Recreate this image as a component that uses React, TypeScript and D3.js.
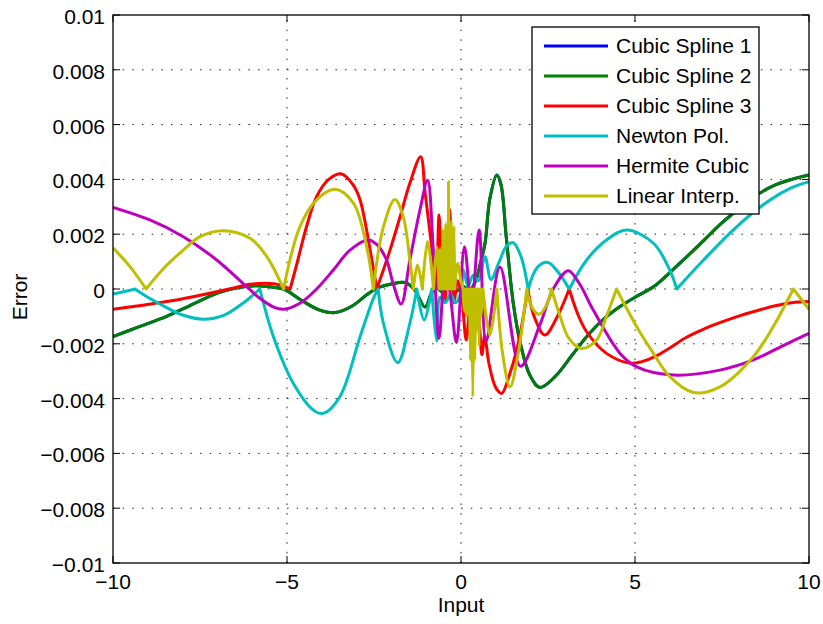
import React from "react";
import * as d3 from "d3";

// ---- data (x, error, optional kink flag = 1 where the curve has a corner) ----
type Pt = [number, number, number?];

const xTicks = [-10, -5, 0, 5, 10];
const xTickLabels = ["\u221210", "\u22125", "0", "5", "10"];
const yTicks = [0.01, 0.008, 0.006, 0.004, 0.002, 0, -0.002, -0.004, -0.006, -0.008, -0.01];
const yTickLabels = ["0.01", "0.008", "0.006", "0.004", "0.002", "0", "\u22120.002", "\u22120.004", "\u22120.006", "\u22120.008", "\u22120.01"];

const seriesNames = ["Cubic Spline 1", "Cubic Spline 2", "Cubic Spline 3", "Newton Pol.", "Hermite Cubic", "Linear Interp."];

const spline2Err: Pt[] = [
  [-10, -1.74e-3], [-9.3, -1.4e-3], [-8.46, -1.0e-3], [-7.7, -0.55e-3], [-7.02, -0.16e-3], [-6.5, 0.03e-3],
  [-5.9, 0.12e-3], [-5.5, 0.08e-3], [-5.1, 0.0], [-4.6, -0.4e-3], [-4.1, -0.75e-3], [-3.62, -0.86e-3],
  [-3.1, -0.6e-3], [-2.7, -0.2e-3], [-2.42, 0.02e-3], [-2.0, 0.18e-3], [-1.61, 0.24e-3], [-1.35, 0.0],
  [-1.03, -0.66e-3], [-0.85, -0.15e-3], [-0.7, 0.05e-3], [-0.55, -0.1e-3], [-0.35, 0.1e-3], [-0.15, -0.1e-3],
  [0.05, 0.1e-3], [0.25, -0.05e-3], [0.42, 0.3e-3], [0.55, 0.9e-3], [0.69, 1.67e-3], [0.83, 3.3e-3],
  [1.03, 4.16e-3], [1.15, 3.8e-3], [1.3, 1.9e-3], [1.5, -0.5e-3], [1.7, -1.95e-3], [1.98, -3.15e-3],
  [2.27, -3.59e-3], [2.7, -3.2e-3], [3.2, -2.4e-3], [3.61, -1.74e-3], [4.1, -1.1e-3], [4.57, -0.64e-3],
  [5.0, -0.3e-3], [5.53, 0.08e-3], [6.0, 0.6e-3], [6.49, 1.18e-3], [7.0, 1.8e-3], [7.44, 2.35e-3],
  [8.0, 2.95e-3], [8.4, 3.35e-3], [9.0, 3.78e-3], [9.5, 4.0e-3], [10, 4.16e-3],
];

// Cubic Spline 1 is fully hidden under Cubic Spline 2 in the reference
const spline1Err: Pt[] = spline2Err;

const spline3Err: Pt[] = [
  [-10, -0.74e-3], [-9.2, -0.6e-3], [-8.46, -0.46e-3], [-7.7, -0.28e-3], [-7.02, -0.1e-3], [-6.5, 0.05e-3],
  [-6.06, 0.17e-3], [-5.6, 0.21e-3], [-5.2, 0.15e-3], [-4.91, 0.0, 1], [-4.7, 1.0e-3], [-4.44, 2.27e-3],
  [-4.15, 3.37e-3], [-3.8, 4.0e-3], [-3.43, 4.2e-3], [-3.1, 3.8e-3], [-2.9, 3.25e-3], [-2.61, 1.42e-3],
  [-2.42, 0.0, 1], [-2.04, 1.42e-3], [-1.75, 2.64e-3], [-1.47, 3.86e-3], [-1.16, 4.83e-3], [-1.03, 3.5e-3],
  [-0.8, 1.06e-3], [-0.72, 0.0], [-0.63, 2.7e-3], [-0.55, 0.2e-3], [-0.47, -0.5e-3], [-0.4, 0.8e-3],
  [-0.33, 2.9e-3], [-0.26, 1.2e-3], [-0.2, -0.5e-3], [-0.1, 0.3e-3], [0.02, -0.3e-3], [0.15, -1.86e-3],
  [0.27, -0.6e-3], [0.38, -1.6e-3], [0.5, -1.2e-3], [0.6, -2.4e-3], [0.68, -1.7e-3], [0.8, -2.7e-3],
  [1.0, -3.6e-3], [1.17, -3.81e-3], [1.4, -3.1e-3], [1.6, -2.23e-3], [1.75, -1.3e-3], [1.92, 0.0, 1],
  [2.1, -1.0e-3], [2.41, -1.68e-3], [2.75, -1.05e-3], [3.11, 0.0, 1], [3.35, -0.9e-3], [3.61, -1.56e-3],
  [4.18, -2.35e-3], [4.86, -2.71e-3], [5.2, -2.65e-3], [5.6, -2.45e-3], [6.0, -2.15e-3], [6.48, -1.76e-3],
  [7.0, -1.45e-3], [7.44, -1.23e-3], [8.0, -0.98e-3], [8.4, -0.83e-3], [9.0, -0.62e-3], [9.5, -0.5e-3],
  [10, -0.46e-3],
];

const newtonErr: Pt[] = [
  [-10, -0.18e-3], [-9.7, -0.1e-3], [-9.37, 0.0, 1], [-9.0, -0.3e-3], [-8.5, -0.65e-3], [-8.0, -0.95e-3],
  [-7.4, -1.1e-3], [-6.8, -0.95e-3], [-6.3, -0.55e-3], [-5.78, 0.0, 1], [-5.39, -1.74e-3], [-4.82, -3.44e-3],
  [-4.24, -4.42e-3], [-3.96, -4.54e-3], [-3.48, -3.93e-3], [-2.9, -1.74e-3], [-2.52, -0.35e-3], [-2.38, 0.0, 1],
  [-2.23, -1.25e-3], [-1.82, -2.69e-3], [-1.47, -1.25e-3], [-1.27, 0.0, 1], [-1.06, -1.13e-3], [-0.84, 0.0, 1],
  [-0.7, -1.9e-3], [-0.6, -0.3e-3], [-0.45, -0.5e-3], [-0.3, -0.2e-3], [-0.15, -0.5e-3], [0.0, -0.1e-3],
  [0.07, 0.69e-3], [0.2, 0.1e-3], [0.35, 0.5e-3], [0.5, 0.3e-3], [0.69, 1.18e-3], [0.86, 0.35e-3],
  [1.1, 1.0e-3], [1.3, 1.55e-3], [1.5, 1.69e-3], [1.72, 1.2e-3], [1.93, 0.0, 1], [2.2, 0.8e-3],
  [2.5, 0.97e-3], [2.8, 0.6e-3], [3.11, 0.0, 1], [3.61, 1.06e-3], [4.18, 1.79e-3], [4.76, 2.15e-3],
  [5.53, 1.67e-3], [6.0, 0.69e-3], [6.2, 0.0, 1], [6.97, 1.06e-3], [7.92, 2.27e-3], [8.88, 3.25e-3],
  [9.5, 3.7e-3], [10, 3.92e-3],
];

const hermiteErr: Pt[] = [
  [-10, 2.98e-3], [-8.94, 2.52e-3], [-7.98, 1.91e-3], [-7.02, 1.06e-3], [-6.26, 0.2e-3], [-5.78, -0.34e-3],
  [-5.4, -0.65e-3], [-5.1, -0.74e-3], [-4.63, -0.52e-3], [-4.15, 0.0], [-3.67, 0.69e-3], [-3.19, 1.42e-3],
  [-2.66, 1.79e-3], [-2.4, 1.6e-3], [-2.14, 1.06e-3], [-1.95, 0.2e-3], [-1.72, -0.55e-3], [-1.47, 1.06e-3],
  [-1.18, 2.88e-3], [-0.96, 3.97e-3], [-0.8, 1.5e-3], [-0.63, -1.8e-3], [-0.45, 1.0e-3], [-0.3, -0.3e-3],
  [-0.13, -1.95e-3], [0.1, 1.54e-3], [0.3, -0.6e-3], [0.52, 2.15e-3], [0.72, -1.9e-3], [1.12, 0.8e-3],
  [1.71, -2.82e-3], [2.27, -1.3e-3], [2.65, 0.0], [3.08, 0.67e-3], [3.4, 0.2e-3], [3.8, -0.77e-3],
  [4.57, -2.35e-3], [5.05, -2.84e-3], [6.1, -3.14e-3], [7.44, -2.96e-3], [8.4, -2.59e-3], [9.2, -2.1e-3],
  [10, -1.62e-3],
];

const linearErr: Pt[] = [
  [-10, 1.5e-3], [-9.5, 0.8e-3], [-9.05, 0.0, 1], [-8.5, 0.81e-3], [-7.98, 1.42e-3], [-7.5, 1.91e-3],
  [-6.84, 2.13e-3], [-6.06, 1.85e-3], [-5.58, 1.18e-3], [-5.1, 0.0, 1], [-4.63, 2.27e-3], [-4.15, 3.25e-3],
  [-3.62, 3.64e-3], [-3.09, 3.13e-3], [-2.71, 1.54e-3], [-2.52, 0.0, 1], [-2.23, 2.27e-3], [-1.9, 3.27e-3],
  [-1.66, 2.64e-3], [-1.47, 1.06e-3], [-1.37, 0.0, 1], [-1.25, 0.88e-3], [-1.11, 0.0, 1], [-0.96, 1.73e-3],
  [-0.79, 0.0, 1], [-0.7, 1.54e-3], [-0.63, 0.0, 1], [-0.6, 1.5e-3], [-0.58, 0.0, 1], [-0.56, 1.3e-3],
  [-0.54, 0.0, 1], [-0.52, 2.2e-3], [-0.5, 0.0, 1], [-0.48, 1.1e-3], [-0.46, 0.0, 1], [-0.44, 2.4e-3],
  [-0.42, 0.0, 1], [-0.4, 1.6e-3], [-0.38, 0.0, 1], [-0.36, 3.92e-3], [-0.34, 0.0, 1], [-0.32, 2.3e-3],
  [-0.3, 0.0, 1], [-0.28, 2.5e-3], [-0.26, 0.0, 1], [-0.24, 1.4e-3], [-0.22, 0.0, 1], [-0.2, 2.3e-3],
  [-0.18, 0.0, 1], [-0.1, 0.94e-3], [0.0, 0.3e-3], [0.06, 0.0, 1], [0.09, -0.8e-3], [0.12, 0.0, 1],
  [0.15, -1.0e-3], [0.18, 0.0, 1], [0.21, -0.9e-3], [0.24, 0.0, 1], [0.27, -2.6e-3], [0.3, 0.0, 1],
  [0.34, -3.93e-3], [0.37, 0.0, 1], [0.4, -2.6e-3], [0.43, 0.0, 1], [0.46, -1.5e-3], [0.49, 0.0, 1],
  [0.52, -2.1e-3], [0.55, 0.0, 1], [0.58, -1.0e-3], [0.63, 0.0, 1], [0.83, -1.68e-3], [1.03, 0.0, 1],
  [1.2, -2.4e-3], [1.41, -3.57e-3], [1.65, -2.3e-3], [1.89, 0.0, 1], [2.05, -0.7e-3], [2.25, -0.92e-3],
  [2.45, -0.6e-3], [2.6, 0.0, 1], [2.85, -1.0e-3], [3.1, -1.8e-3], [3.47, -2.17e-3], [3.9, -1.86e-3],
  [4.18, -1.0e-3], [4.47, 0.0, 1], [5.05, -1.38e-3], [5.53, -2.35e-3], [6.0, -3.2e-3], [6.68, -3.78e-3],
  [7.44, -3.57e-3], [8.4, -2.47e-3], [8.97, -1.38e-3], [9.55, 0.0, 1], [10, -0.74e-3],
];

const seriesData: Pt[][] = [spline1Err, spline2Err, spline3Err, newtonErr, hermiteErr, linearErr];
const seriesColors = ["#0000ff", "#008000", "#ff0000", "#00bfbf", "#bf00bf", "#bfbf00"];

// ---- layout ----
const W = 823, H = 624;
const M = { left: 113, right: 809, top: 15, bottom: 563 };
const FONT = "'Liberation Sans', Arial, Helvetica, sans-serif";
const FS = 21;

const x = d3.scaleLinear().domain([-10, 10]).range([M.left, M.right]);
const y = d3.scaleLinear().domain([-0.01, 0.01]).range([M.bottom, M.top]);

const line = d3
  .line<Pt>()
  .x((d) => x(d[0]))
  .y((d) => y(d[1]))
  .curve(d3.curveCatmullRom.alpha(0.5));

function pathFor(pts: Pt[]): string {
  const segs: Pt[][] = [];
  let cur: Pt[] = [];
  for (const p of pts) {
    cur.push(p);
    if (p[2] && cur.length > 1) {
      segs.push(cur);
      cur = [p];
    }
  }
  if (cur.length > 1) segs.push(cur);
  return segs
    .map((s, i) => {
      const d = line(s) || "";
      return i === 0 ? d : "L" + d.slice(1);
    })
    .join("");
}

export default function App() {
  const tickLen = 7;
  const dash = "1.5 8.17";
  const legend = { x0: 532, y0: 27, x1: 759, y1: 214, lineX0: 544, lineX1: 608, textX: 616, row0: 46, rowH: 30 };
  return (
    <svg width={W} height={H} style={{ position: "absolute", left: 0, top: 0, background: "#fff" }} fontFamily={FONT}>
      <rect x={0} y={0} width={W} height={H} fill="#fff" />
      <defs>
        <clipPath id="plotClip">
          <rect x={M.left} y={M.top} width={M.right - M.left} height={M.bottom - M.top} />
        </clipPath>
      </defs>
      {/* grid */}
      <g stroke="#222" strokeWidth={1} strokeDasharray={dash}>
        {xTicks.slice(1, -1).map((t) => (
          <line key={"gx" + t} x1={x(t)} x2={x(t)} y1={M.bottom} y2={M.top} />
        ))}
        {yTicks.slice(1, -1).map((t) => (
          <line key={"gy" + t} x1={M.left} x2={M.right} y1={y(t)} y2={y(t)} />
        ))}
      </g>
      {/* series */}
      <g clipPath="url(#plotClip)" fill="none" strokeWidth={3} strokeLinejoin="round">
        {seriesData.map((pts, i) => (
          <path key={seriesNames[i]} d={pathFor(pts)} stroke={seriesColors[i]} />
        ))}
      </g>
      {/* axes box and ticks */}
      <rect x={M.left} y={M.top} width={M.right - M.left} height={M.bottom - M.top} fill="none" stroke="#000" strokeWidth={1.3} />
      <g stroke="#000" strokeWidth={1}>
        {xTicks.map((t) => (
          <g key={"tx" + t}>
            <line x1={x(t)} x2={x(t)} y1={M.bottom} y2={M.bottom - tickLen} />
            <line x1={x(t)} x2={x(t)} y1={M.top} y2={M.top + tickLen} />
          </g>
        ))}
        {yTicks.map((t) => (
          <g key={"ty" + t}>
            <line x1={M.left} x2={M.left + tickLen} y1={y(t)} y2={y(t)} />
            <line x1={M.right} x2={M.right - tickLen} y1={y(t)} y2={y(t)} />
          </g>
        ))}
      </g>
      {/* tick labels */}
      <g fontSize={FS} fill="#000">
        {xTicks.map((t, i) => (
          <text key={"lx" + t} x={x(t)} y={M.bottom + 26} textAnchor="middle">
            {xTickLabels[i]}
          </text>
        ))}
        {yTicks.map((t, i) => (
          <text key={"ly" + t} x={M.left - 8} y={y(t) + 9} textAnchor="end">
            {yTickLabels[i]}
          </text>
        ))}
      </g>
      <text x={(M.left + M.right) / 2} y={612} fontSize={FS} textAnchor="middle">
        Input
      </text>
      <text transform={`translate(27, ${(M.top + M.bottom) / 2 + 8}) rotate(-90)`} fontSize={FS} textAnchor="middle">
        Error
      </text>
      {/* legend */}
      <rect x={legend.x0} y={legend.y0} width={legend.x1 - legend.x0} height={legend.y1 - legend.y0} fill="#fff" stroke="#000" strokeWidth={1.3} />
      {seriesNames.map((name, i) => {
        const ry = legend.row0 + i * legend.rowH;
        return (
          <g key={"leg" + name}>
            <line x1={legend.lineX0} x2={legend.lineX1} y1={ry} y2={ry} stroke={seriesColors[i]} strokeWidth={3} />
            <text x={legend.textX} y={ry + 7} fontSize={FS}>
              {name}
            </text>
          </g>
        );
      })}
    </svg>
  );
}
